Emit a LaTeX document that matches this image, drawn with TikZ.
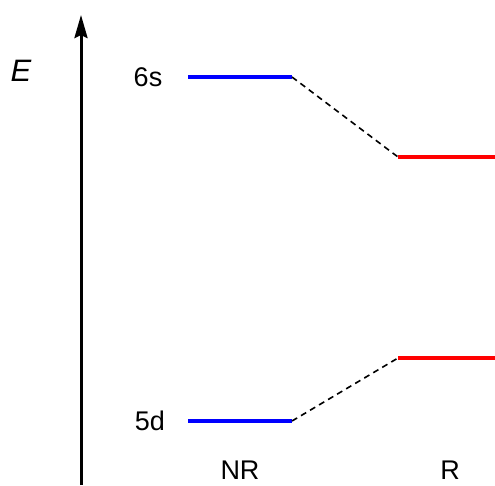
\documentclass[tikz,border=0pt]{standalone}
\usepackage{fontspec}
\setmainfont{Liberation Sans}
\usetikzlibrary{arrows.meta}
\begin{document}
\begin{tikzpicture}[x=1pt,y=-1pt,
  lbl/.style={inner sep=0pt,font=\fontsize{27}{31}\selectfont},
  nrlevel/.style={draw=blue,line width=4.5pt},
  rlevel/.style={draw=red,line width=4.5pt},
  corr/.style={line width=1.6pt,dash pattern=on 6pt off 4.5pt}]
\useasboundingbox (0,0) rectangle (495,485);
\coordinate (ab) at (81,485);
\coordinate (at) at (81,15);
\draw[line width=3pt,-{Stealth[length=23pt,width=13pt,inset=3pt]}] (ab) -- (at);
\node[inner sep=0pt,font=\fontsize{31}{35}\selectfont] (E) at (21,71) {\textit{E}};
\coordinate (s1) at (188,77); \coordinate (s2) at (292,77);
\coordinate (d1) at (188,421); \coordinate (d2) at (292,421);
\coordinate (rs1) at (398,157); \coordinate (rs2) at (495,157);
\coordinate (rd1) at (398,358); \coordinate (rd2) at (495,358);
\draw[nrlevel] (s1) -- (s2);
\draw[nrlevel] (d1) -- (d2);
\draw[rlevel] (rs1) -- (rs2);
\draw[rlevel] (rd1) -- (rd2);
\draw[corr] (s2) -- (rs1);
\draw[corr] (d2) -- (rd1);
\node[lbl] (l6s) at (148,77) {6s};
\node[lbl] (l5d) at (150,421) {5d};
\node[lbl,anchor=base] (nr) at (240,479) {NR};
\node[lbl,anchor=base] (r) at (450,479) {R};
\end{tikzpicture}
\end{document}
